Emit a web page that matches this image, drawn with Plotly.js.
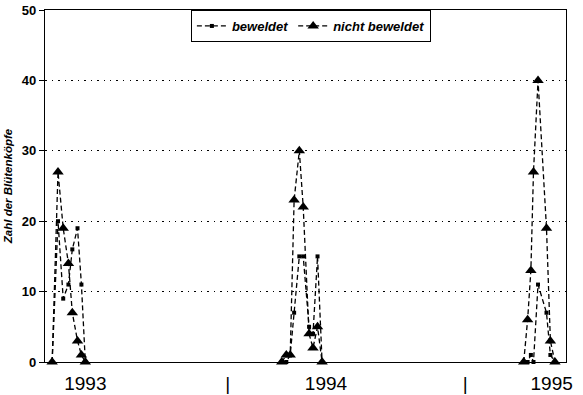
<!DOCTYPE html>
<html>
<head>
<meta charset="utf-8">
<script src="https://cdn.plot.ly/plotly-3.0.1.min.js"></script>
<style>html,body{margin:0;padding:0;background:#fff;}#chart{width:583px;height:395px;}</style>
</head>
<body>
<div id="chart"></div>
<script>
// Sampling dates (weekly counts, spring of each year)
const dates1993 = ['1993-04-06','1993-04-15','1993-04-23','1993-05-01','1993-05-07','1993-05-15','1993-05-21','1993-05-27'];
const dates1994 = ['1994-03-25','1994-04-01','1994-04-07','1994-04-13','1994-04-21','1994-04-27','1994-05-06','1994-05-12','1994-05-19','1994-05-26'];
const dates1995 = ['1995-04-01','1995-04-07','1995-04-12','1995-04-16','1995-04-23','1995-05-06','1995-05-12','1995-05-19'];

// Zahl der Blütenköpfe
const beweldet1993 = [0, 20, 9, 11, 16, 19, 11, 0];
const beweldet1994 = [0, 0, 1, 7, 15, 15, 5, 4, 15, 0];
const beweldet1995 = [0, 0, 1, 0, 11, 7, 1, 0];

const nichtBeweldet1993 = [0, 27, 19, 14, 7, 3, 1, 0];
const nichtBeweldet1994 = [0, 1, 1, 23, 30, 22, 4, 2, 5, 0];
const nichtBeweldet1995 = [0, 6, 13, 27, 40, 19, 3, 0];

const seriesNames = ['beweldet', 'nicht beweldet'];

// x tick labels: year labels and year separators
const tickDates = ['1993-05-27', '1994-01-01', '1994-06-01', '1995-01-01', '1995-05-14'];
const tickLabels = ['1993', '|', '1994', '|', '1995'];

function joinYears(a, b, c) { return a.concat([null], b, [null], c); }
const xAll = joinYears(dates1993, dates1994, dates1995);

const font = 'Liberation Sans, Arial, sans-serif';

const traces = [
  {
    x: xAll, y: joinYears(beweldet1993, beweldet1994, beweldet1995),
    name: seriesNames[0], type: 'scatter', mode: 'lines+markers',
    connectgaps: false, cliponaxis: false,
    line: {color: '#000', width: 1.3, dash: '5px,3px'},
    marker: {symbol: 'square', size: 4, color: '#000'}
  },
  {
    x: xAll, y: joinYears(nichtBeweldet1993, nichtBeweldet1994, nichtBeweldet1995),
    name: seriesNames[1], type: 'scatter', mode: 'lines+markers',
    connectgaps: false, cliponaxis: false,
    line: {color: '#000', width: 1.3, dash: '5px,3px'},
    marker: {symbol: 'triangle-up', size: 10, color: '#000'}
  }
];

const layout = {
  width: 583, height: 395,
  margin: {l: 45, r: 17, t: 10, b: 33},
  paper_bgcolor: '#fff', plot_bgcolor: '#fff',
  showlegend: true,
  legend: {
    orientation: 'h', x: 0.28, y: 1, xanchor: 'left', yanchor: 'top',
    bordercolor: '#000', borderwidth: 1, bgcolor: '#fff',
    font: {family: font, size: 13, style: 'italic', weight: 'bold', color: '#000'},
    itemwidth: 30, tracegroupgap: 0
  },
  xaxis: {
    type: 'date', range: ['1993-03-26', '1995-06-05'],
    showgrid: false, zeroline: false,
    showline: true, linecolor: '#000', linewidth: 1.2, mirror: true,
    ticks: '', tickmode: 'array', tickvals: tickDates, ticktext: tickLabels,
    tickfont: {family: font, size: 19, color: '#000'},
    ticklabelstandoff: 4
  },
  yaxis: {
    range: [0, 50], dtick: 10, tick0: 0,
    showgrid: true, gridcolor: '#000', gridwidth: 1, griddash: '1.5px,5px',
    zeroline: false,
    showline: true, linecolor: '#000', linewidth: 1.2, mirror: true,
    ticks: 'outside', ticklen: 5, tickcolor: '#000', tickwidth: 1,
    tickfont: {family: font, size: 13, weight: 'bold', color: '#000'},
    title: {text: 'Zahl der Blütenköpfe', standoff: 6,
            font: {family: font, size: 11.5, style: 'italic', weight: 'bold', color: '#000'}}
  }
};

Plotly.newPlot('chart', traces, layout, {staticPlot: true, displayModeBar: false});
</script>
</body>
</html>
